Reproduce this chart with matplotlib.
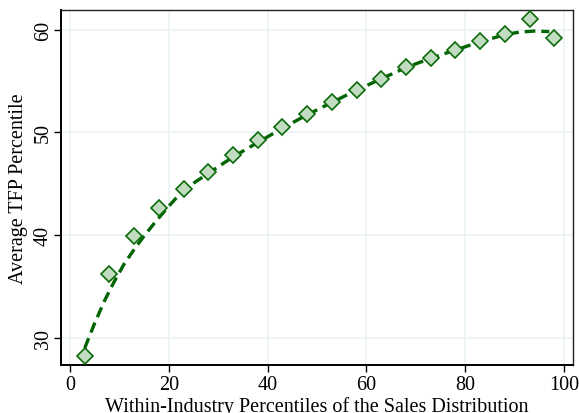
import matplotlib
matplotlib.use("Agg")
import matplotlib.pyplot as plt

# Binned scatter: within-industry sales percentile vs average TFP percentile
sales_pct = [3, 8, 13, 18, 23, 28, 33, 38, 43, 48, 53, 58, 63, 68, 73, 78, 83, 88, 93, 98]
tfp_pct = [28.2, 36.2, 39.9, 42.6, 44.5, 46.1, 47.8, 49.2, 50.5, 51.8,
           52.9, 54.1, 55.2, 56.4, 57.2, 58.0, 58.9, 59.6, 61.0, 59.2]

# Fitted curve (dashed)
fit_x = [3, 5, 7, 9, 11, 13, 15, 17, 20, 23, 28, 33, 38, 43, 48, 53, 58, 63,
         68, 73, 78, 83, 88, 91, 94, 97]
fit_y = [29.0, 31.4, 33.6, 35.5, 37.2, 38.6, 39.9, 41.1, 42.8, 44.4, 46.0, 47.6,
         49.0, 50.4, 51.7, 52.9, 54.1, 55.2, 56.3, 57.2, 58.0, 58.8, 59.5, 59.75,
         59.85, 59.8]

x_ticks = [0, 20, 40, 60, 80, 100]
y_ticks = [30, 40, 50, 60]
x_label = "Within-Industry Percentiles of the Sales Distribution"
y_label = "Average TFP Percentile"

plt.rcParams['font.family'] = ['Liberation Serif', 'DejaVu Serif']

fig = plt.figure(figsize=(5.79, 4.14), dpi=100)
ax_left, ax_right = 61, 572.5
ax = fig.add_axes([ax_left/579, 1-366/414, (ax_right-ax_left)/579, (366-11)/414])

ax.plot(fit_x, fit_y, color='#006400', lw=2.4, ls=(0, (3.2, 1.8)), zorder=2)
ax.plot(sales_pct, tfp_pct, ls='none', marker='D', markersize=8.3,
        markerfacecolor='#c2dcc2', markeredgecolor='#0b6b0b', markeredgewidth=1.2, zorder=3)

ax.set_xlim(-1.8, 101.7)
ax.set_ylim(27.35, 61.9)
ax.set_xticks(x_ticks)
ax.set_yticks(y_ticks)
ax.grid(True, color='#e8f1f1', lw=1.1, zorder=0)
ax.set_axisbelow(True)
ax.tick_params(axis='both', direction='out', length=5, width=1, labelsize=14.5, colors='black')
for lab in ax.get_yticklabels():
    lab.set_rotation(90)
    lab.set_va('center')
ax.tick_params(axis='y', pad=1)
ax.tick_params(axis='x', pad=2)

for side in ['left', 'bottom']:
    ax.spines[side].set_linewidth(1.4)
    ax.spines[side].set_color('black')
for side in ['top', 'right']:
    ax.spines[side].set_linewidth(1.0)
    ax.spines[side].set_color('#222222')

ax.set_xlabel(x_label, fontsize=14.5, labelpad=2)
ax.set_ylabel(y_label, fontsize=14.5)
ax.yaxis.set_label_coords((28 - ax_left) / (ax_right - ax_left), 0.5)

fig.savefig('out.png', dpi=100)
